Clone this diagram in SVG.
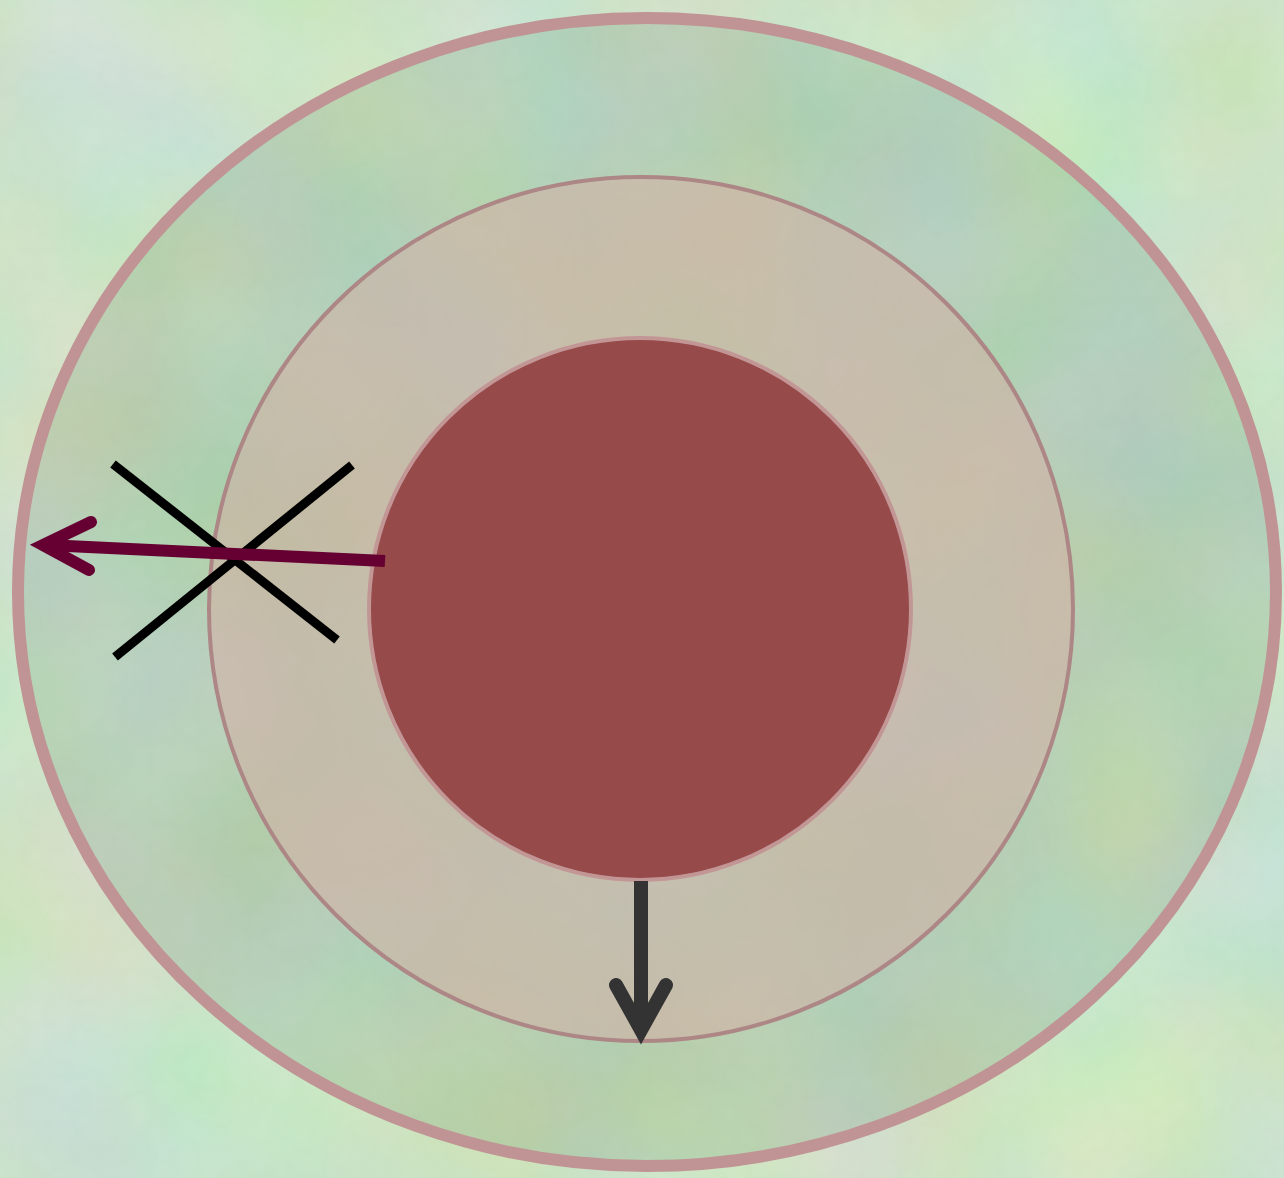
<svg xmlns="http://www.w3.org/2000/svg" width="1284" height="1178" viewBox="0 0 1284 1178">
<defs>
<filter id="tex" x="0" y="0" width="100%" height="100%">
<feTurbulence type="fractalNoise" baseFrequency="0.005" numOctaves="2" seed="7" result="n"/>
<feColorMatrix in="n" type="matrix" values="0.4 0 0 0 0.46  0 0.2 0 0 0.7  0 0 0.4 0 0.44  0 0 0 0 1"/>
</filter>
<filter id="grain" x="0" y="0" width="100%" height="100%">
<feTurbulence type="turbulence" baseFrequency="0.04" numOctaves="2" seed="3" result="t"/>
<feColorMatrix in="t" type="matrix" values="0 0 0 0 1  0 0 0 0 1  0 0 0 0 1  0 0 0 0.5 0"/>
</filter>
<style>
.xline{stroke:#000;stroke-width:9;fill:none}
.purple{stroke:#660033;stroke-width:12;fill:none;stroke-linecap:round;stroke-linejoin:miter}
.dark{stroke:#333333;stroke-width:14;fill:none}
</style>
</defs>
<rect width="1284" height="1178" fill="#a9d2a2"/>
<rect width="1284" height="1178" filter="url(#tex)" opacity="0.8"/>
<rect width="1284" height="1178" filter="url(#grain)" opacity="0.15"/>
<g id="outer">
<ellipse cx="647" cy="592" rx="629" ry="574" fill="#3f6f50" fill-opacity="0.16" stroke="#c09494" stroke-width="12"/>
</g>
<g id="middle">
<circle cx="641" cy="609" r="432" fill="#d0b2a6" fill-opacity="0.62" stroke="#ad8686" stroke-width="4"/>
</g>
<g id="inner">
<circle cx="640" cy="609" r="271" fill="#964a4a" stroke="#c39696" stroke-width="4"/>
</g>
<g id="connectors">
<line class="xline" x1="113" y1="464" x2="337" y2="640"/>
<line class="xline" x1="115" y1="657" x2="352" y2="465"/>
<line class="purple" x1="385" y1="561" x2="46" y2="545" style="stroke-linecap:butt"/>
<polyline class="purple" points="91,522 43,545 89,570"/>
<line class="dark" x1="641" y1="881" x2="641" y2="1020"/>
<path d="M616,985 L641,1030 L666,985" class="dark" stroke-linecap="round" stroke-linejoin="miter"/>
<path d="M628,1005 L641,1038 L654,1005 Z" fill="#333333"/>
</g>
</svg>
